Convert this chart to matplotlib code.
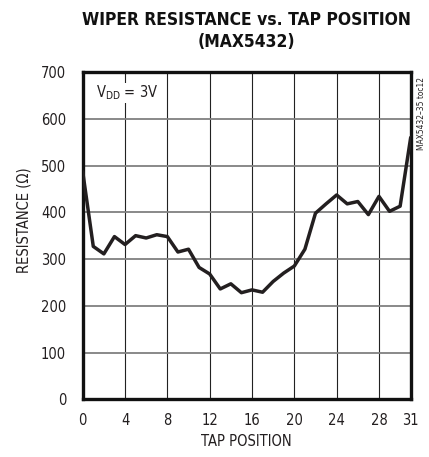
import numpy as np
import matplotlib as mpl
mpl.use('Agg')
import matplotlib.pyplot as plt

# data
tap = list(range(32))
resistance = [487, 327, 311, 348, 331, 350, 345, 352, 348, 315,
              321, 282, 268, 236, 247, 228, 234, 229, 252, 270,
              285, 321, 398, 418, 437, 418, 423, 395, 434, 402,
              413, 560]
xticks = [0, 4, 8, 12, 16, 20, 24, 28, 31]
yticks = [0, 100, 200, 300, 400, 500, 600, 700]

mpl.rcParams.update({
    "font.family": ['DejaVu Sans'],
    "font.stretch": "condensed",
    "mathtext.fontset": "custom",
    "mathtext.rm": "DejaVu Sans:stretch=condensed",
})

fig = plt.figure(figsize=(4.29, 4.57), dpi=100)
ax = fig.add_axes([82.7 / 429, 1 - 399.3 / 457, 328.0 / 429, 327.3 / 457])

ax.plot(tap, resistance, color='#231f20', lw=2.5, solid_joinstyle='round',
        solid_capstyle='round', zorder=3)

ax.set_xlim(0, 31)
ax.set_ylim(0, 700)
ax.set_xticks(xticks)
ax.set_yticks(yticks)
ax.tick_params(length=0, labelsize=10.5, pad=12, colors='#231f20')
ax.tick_params(axis='x', pad=10)

for x in xticks[1:-1]:
    ax.axvline(x, color='#222222', lw=0.8, zorder=1)
for y in yticks[1:-1]:
    ax.axhline(y, color='#808080', lw=1.3, zorder=1)

for s in ax.spines.values():
    s.set_linewidth(2.4)
    s.set_color('#111111')

ax.set_xlabel('TAP POSITION', fontsize=10.5, labelpad=4, color='#231f20')
fig.text(24 / 429, 1 - 220 / 457, 'RESISTANCE (Ω)', rotation=90,
         ha='center', va='center', fontsize=10.5, color='#231f20')

fig.text(246.7 / 429, 1 - 31 / 457,
         'WIPER RESISTANCE vs. TAP POSITION\n(MAX5432)',
         ha='center', va='center', fontsize=12.5, fontweight='heavy',
         linespacing=1.25, color='#111111')

ax.text(1.3, 655, r'V$_{\mathrm{DD}}$ = 3V', fontsize=10.5, va='center',
        ha='left', color='#231f20', zorder=4,
        bbox=dict(facecolor='white', edgecolor='none', pad=0.5))

fig.text(422 / 429, 1 - 113 / 457, 'MAX5432–35 toc12', rotation=90,
         ha='center', va='center', fontsize=6, color='#231f20')

fig.savefig('out.png', dpi=100)
